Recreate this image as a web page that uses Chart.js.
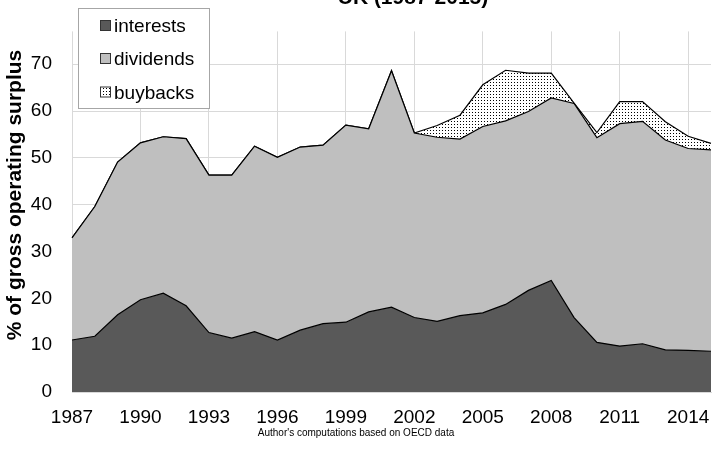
<!DOCTYPE html>
<html>
<head>
<meta charset="utf-8">
<script src="https://cdn.jsdelivr.net/npm/chart.js@4/dist/chart.umd.min.js"></script>
<style>
  html, body { margin: 0; padding: 0; background: #fff; }
  #wrap { width: 712px; height: 467px; }
</style>
</head>
<body>
<div id="wrap"><canvas id="areaChart" width="712" height="467"></canvas></div>
<script>
// Data (% of gross operating surplus)
const years = ['1987', '1988', '1989', '1990', '1991', '1992', '1993', '1994', '1995', '1996',
    '1997', '1998', '1999', '2000', '2001', '2002', '2003', '2004', '2005', '2006',
    '2007', '2008', '2009', '2010', '2011', '2012', '2013', '2014', '2015'];
const interests = [11.1, 11.9, 16.5, 19.7, 21.1, 18.4, 12.7, 11.5, 12.9, 11.1,
    13.2, 14.6, 14.9, 17.1, 18.1, 15.9, 15.1, 16.3, 16.9, 18.7,
    21.7, 23.8, 15.9, 10.6, 9.8, 10.3, 9.0, 8.9, 8.7];
const dividends = [21.8, 27.7, 32.6, 33.5, 33.4, 35.7, 33.6, 34.8, 39.6, 39.0,
    39.1, 38.1, 42.1, 39.1, 50.5, 39.4, 39.3, 37.7, 39.8, 39.2,
    38.2, 39.0, 45.7, 43.7, 47.5, 47.5, 44.8, 43.1, 43.0];
const buybacks = [0, 0, 0, 0, 0, 0, 0, 0, 0, 0,
    0, 0, 0, 0, 0, 0, 2.5, 5.1, 8.9, 10.8,
    8.2, 5.3, 0.1, 1.1, 4.7, 4.2, 3.9, 2.6, 1.4];
const seriesNames = ['interests', 'dividends', 'buybacks'];
const yTicks = [0, 10, 20, 30, 40, 50, 60, 70];

const FONT = "'Liberation Sans', Arial, sans-serif";
const GRID = '#d9d9d9';

// dotted fill used for buybacks
const makeDots = () => {
    const c = document.createElement('canvas');
    c.width = 3; c.height = 3;
    const g = c.getContext('2d');
    g.fillStyle = '#fff';
    g.fillRect(0, 0, 3, 3);
    g.fillStyle = '#000';
    g.fillRect(1, 1, 1, 1);
    return g.createPattern(c, 'repeat');
};
const dots = makeDots();
const fills = ['#595959', '#bfbfbf', dots];

// legend box, titles and source note drawn on the canvas
const extras = {
    id: 'extras',
    afterDraw(chart) {
        const ctx = chart.ctx;
        ctx.save();
        // title, mostly cut off at the top like the original
        ctx.fillStyle = '#000';
        ctx.font = 'bold 21px ' + FONT;
        ctx.textAlign = 'center';
        ctx.textBaseline = 'alphabetic';
        ctx.fillText('UK (1987-2015)', 413, 4);

        // y axis title
        ctx.save();
        ctx.translate(15, 195);
        ctx.rotate(-Math.PI / 2);
        ctx.textBaseline = 'middle';
        ctx.fillText('% of gross operating surplus', 0, 0);
        ctx.restore();

        // legend
        ctx.fillStyle = '#fff';
        ctx.fillRect(78.5, 8.5, 131, 100);
        ctx.strokeStyle = '#a6a6a6';
        ctx.lineWidth = 1;
        ctx.strokeRect(78.5, 8.5, 131, 100);
        const baselines = [32, 65, 98.5];
        ctx.font = '19px ' + FONT;
        ctx.textAlign = 'left';
        seriesNames.forEach((name, i) => {
            const b = baselines[i];
            ctx.fillStyle = fills[i];
            ctx.fillRect(100.5, b - 11.5, 10, 10);
            ctx.strokeStyle = '#333';
            ctx.strokeRect(100.5, b - 11.5, 10, 10);
            ctx.fillStyle = '#000';
            ctx.fillText(name, 114, b);
        });

        // source note
        ctx.font = '10px ' + FONT;
        ctx.textAlign = 'center';
        ctx.textBaseline = 'middle';
        ctx.fillText("Author's computations based on OECD data", 356, 433);
        ctx.restore();
    }
};

const ctx = document.getElementById('areaChart').getContext('2d');
new Chart(ctx, {
    type: 'line',
    data: {
        labels: years,
        datasets: [{
            label: seriesNames[0],
            data: interests,
            backgroundColor: fills[0],
            fill: 'origin'
        }, {
            label: seriesNames[1],
            data: dividends,
            backgroundColor: fills[1],
            fill: '-1'
        }, {
            label: seriesNames[2],
            data: buybacks,
            backgroundColor: fills[2],
            fill: '-1'
        }]
    },
    options: {
        responsive: false,
        animation: false,
        devicePixelRatio: 1,
        layout: { padding: { top: 7, right: 1, bottom: 0, left: 0 } },
        elements: {
            line: { borderColor: '#000', borderWidth: 1.2, tension: 0 },
            point: { radius: 0, hoverRadius: 0 }
        },
        plugins: {
            legend: { display: false },
            tooltip: { enabled: false }
        },
        scales: {
            x: {
                offset: false,
                grid: {
                    drawTicks: false,
                    color: (c) => (c.index % 3 === 0 ? GRID : 'rgba(0,0,0,0)')
                },
                border: { color: GRID },
                ticks: {
                    autoSkip: false,
                    maxRotation: 0,
                    padding: 14,
                    color: '#000',
                    font: { family: FONT, size: 19 },
                    callback: function (v, i) { return i % 3 === 0 ? this.getLabelForValue(v) : ''; }
                },
                afterFit: (s) => {
                    s.height = 75;
                    s.paddingLeft = 0;
                    s.paddingRight = 0;
                }
            },
            y: {
                stacked: true,
                min: 0,
                max: 77,
                grid: { drawTicks: false, color: GRID },
                border: { display: false },
                afterBuildTicks: (s) => { s.ticks = yTicks.map(v => ({ value: v })); },
                ticks: {
                    padding: 20,
                    color: '#000',
                    font: { family: FONT, size: 19 }
                },
                afterFit: (s) => { s.width = 72; }
            }
        }
    },
    plugins: [extras]
});
</script>
</body>
</html>
